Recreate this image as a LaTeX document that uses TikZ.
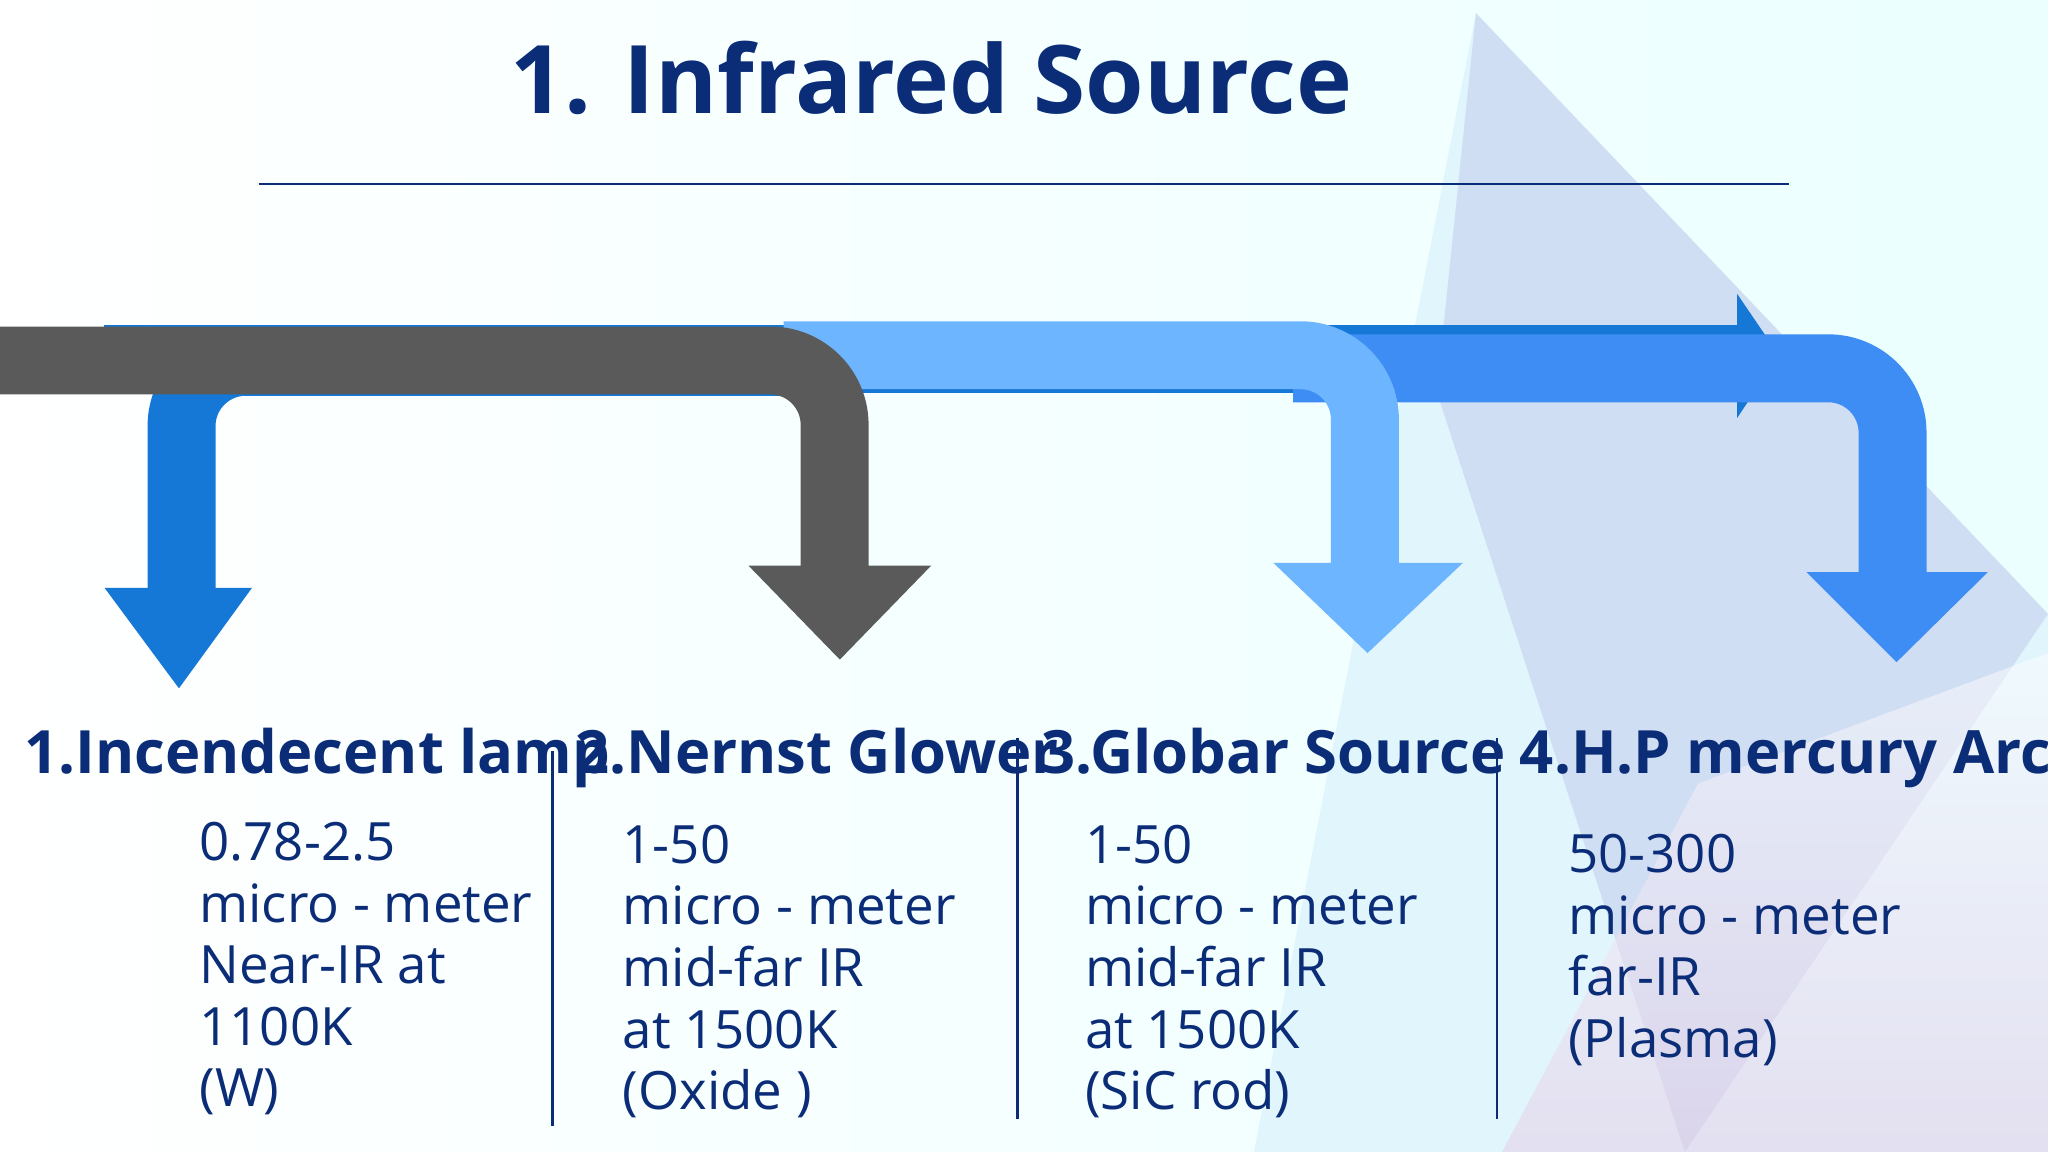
\documentclass[tikz,border=0pt]{standalone}
\usepackage{fontspec}
\setmainfont{Open Sans}
\usetikzlibrary{calc}
\definecolor{navy}{HTML}{0B2D78}
\definecolor{bA}{HTML}{1577D6}
\definecolor{gr}{HTML}{5A5A5A}
\definecolor{lb}{HTML}{6DB5FF}
\definecolor{mb}{HTML}{3D8DF5}
\tikzset{band/.style={line width=52*0.2845pt, rounded corners=14pt},
 lab/.style={anchor=base west, text=navy, font=\fontsize{13}{15}\selectfont\bfseries, inner sep=0},
 body/.style={anchor=north west, text=navy, font=\fontsize{11.5}{13.4}\selectfont, align=left, inner sep=0},
 sep/.style={draw=navy, line width=0.5pt}}
\begin{document}
\begin{tikzpicture}[x=0.01cm,y=-0.01cm]
\useasboundingbox (0,0) rectangle (1568,882);
\begin{scope}
\clip (0,0) rectangle (1568,882);
\shade[left color=white, right color=cyan!8] (0,0) rectangle (1568,882);
\fill[cyan!12, opacity=0.9] (1130,10) -- (1568,470) -- (1568,882) -- (960,882) -- cycle;
\fill[cyan!40!blue!22, opacity=0.6] (1130,10) -- (1568,470) -- (1290,882) -- (1100,300) -- cycle;
\shade[top color=white, bottom color=violet!20, opacity=0.5] (1300,600) -- (1568,500) -- (1568,882) -- (1150,882) -- cycle;
% band A
\coordinate (a0) at (80,275); \coordinate (a1) at (1330,275);
\draw[band, draw=bA] (a0) -- (a1);
\node (aT) [coordinate] at (1362,272) {};
\fill[bA] (1330,225) -- (aT) -- (1330,320) -- cycle;
\coordinate (c1) at (139,277); \coordinate (d1) at (139,455);
\draw[band, draw=bA] (600,277) -- (c1) -- (d1);
\fill[bA] (80,450) -- (193,450) -- (137,527) -- cycle;
% medium blue
\coordinate (c4) at (1449,282); \coordinate (d4) at (1449,442);
\draw[band, draw=mb] (990,282) -- (c4) -- (d4);
\fill[mb] (1383,438) -- (1522,438) -- (1452,507) -- cycle;
% light blue
\coordinate (c3) at (1045,272); \coordinate (d3) at (1045,435);
\draw[band, draw=lb] (600,272) -- (c3) -- (d3);
\fill[lb] (975,431) -- (1120,431) -- (1047,500) -- cycle;
% gray
\coordinate (c2) at (639,276); \coordinate (d2) at (639,437);
\draw[band, draw=gr] (-10,276) -- (c2) -- (d2);
\fill[gr] (573,433) -- (713,433) -- (643,505) -- cycle;
\end{scope}
\node[text=navy, font=\fontsize{20.6}{25}\selectfont\bfseries] (title) at (713,60) {1. Infrared Source};
\draw[navy, line width=0.5pt] (198,141) -- (1370,141);
\node[lab] (l1) at (18,592) {1.Incendecent lamp};
\node[lab] (l2) at (440,592) {2.Nernst Glower};
\node[lab] (l3) at (797,592) {3.Globar Source};
\node[lab] (l4) at (1163,592) {4.H.P mercury Arc};
\node[body] (b1) at (152,629) {0.78-2.5\\micro - meter\\Near-IR at\\1100K\\(W)};
\node[body] (b2) at (476,631) {1-50\\micro - meter\\mid-far IR\\at 1500K\\(Oxide )};
\node[body] (b3) at (830,631) {1-50\\micro - meter\\mid-far IR\\at 1500K\\(SiC rod)};
\node[body] (b4) at (1200,638) {50-300\\micro - meter\\far-IR\\(Plasma)};
\draw[sep] (423,575) -- (423,862);
\draw[sep] (779,565) -- (779,857);
\draw[sep] (1146,565) -- (1146,857);
\end{tikzpicture}
\end{document}
